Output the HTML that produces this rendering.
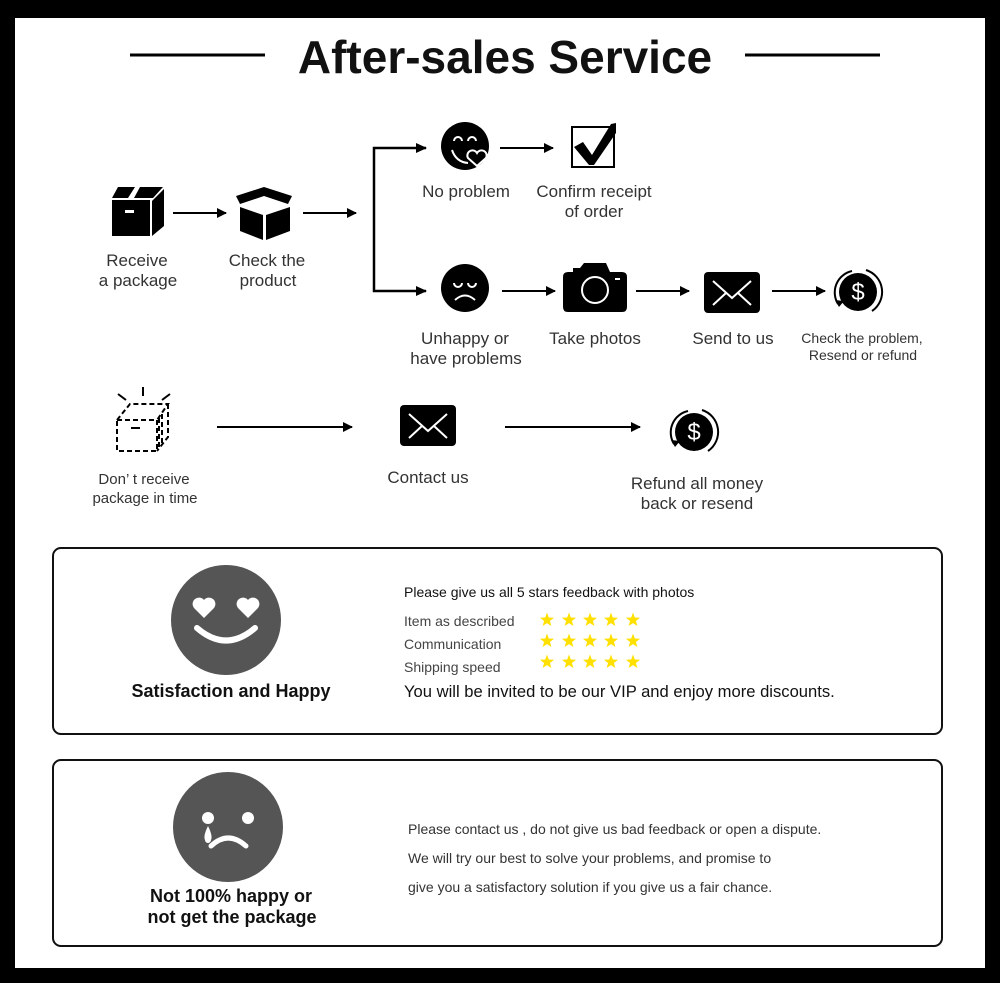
<!DOCTYPE html>
<html><head><meta charset="utf-8"><style>
html,body{margin:0;padding:0;background:#000;}
svg{display:block;}
text{font-family:"Liberation Sans",sans-serif;fill:#333;}
</style></head><body>
<svg width="1000" height="983" viewBox="0 0 1000 983" xmlns="http://www.w3.org/2000/svg">
<defs>
<marker id="ah" markerWidth="10" markerHeight="10" refX="9" refY="5" orient="auto" markerUnits="userSpaceOnUse">
<path d="M0,0 L10,5 L0,10 Z" fill="#000"/></marker>
<path id="st" d="M0,-7.5 L1.8,-2.5 7.1,-2.3 2.9,1 4.4,6 0,3.1 -4.4,6 -2.9,1 -7.1,-2.3 -1.8,-2.5Z" fill="#ffe000"/>
<g id="env"><rect x="0" y="0" width="56" height="41" rx="4" fill="#000"/><path d="M9,9 L28,26 L47,9 M9,33 L22,21 M47,33 L34,21" stroke="#fff" stroke-width="2" fill="none"/></g>
<g id="dol"><circle r="19" fill="#000"/><path d="M-6,-21 A22,22 0 0 0 -20,12 M8,-22 A23,23 0 0 1 14,19" stroke="#000" stroke-width="2" fill="none"/><path d="M-23,8 L-19,15 L-14,9Z" fill="#000"/><text x="0" y="8" text-anchor="middle" font-size="24" style="fill:#fff">$</text></g>
</defs>
<rect x="15" y="18" width="970" height="950" fill="#fff"/>
<line x1="130" y1="55" x2="265" y2="55" stroke="#000" stroke-width="3"/>
<line x1="745" y1="55" x2="880" y2="55" stroke="#000" stroke-width="3"/>
<text x="505" y="73" text-anchor="middle" font-size="46" font-weight="bold" style="fill:#111">After-sales Service</text>

<path d="M112,200 L150,200 L150,236 L112,236Z" fill="#000"/>
<path d="M118,187 L135,187 L128,198 L112,198Z M140,187 L163,187 L153,198 L134,198Z M152,201 L164,189 L164,226 L152,236Z" fill="#000"/>
<rect x="125" y="210" width="9" height="3" fill="#fff"/>
<path d="M264,187 L292,196 L288,204 L264,196 L240,204 L236,196Z" fill="#000"/>
<path d="M240,207 L263,215 L263,240 L240,231Z M266,215 L290,207 L290,231 L266,240Z" fill="#000"/>
<line x1="173" y1="213" x2="226" y2="213" stroke="#000" stroke-width="2" marker-end="url(#ah)"/>
<line x1="303" y1="213" x2="356" y2="213" stroke="#000" stroke-width="2" marker-end="url(#ah)"/>
<path d="M426,148 L374,148 L374,291 L426,291" stroke="#000" stroke-width="2.5" fill="none"/>
<path d="M416,143 L427,148 L416,153Z M416,286 L427,291 L416,296Z" fill="#000"/>
<circle cx="465" cy="146" r="24" fill="#000"/>
<path d="M454,141 a4,4 0 0 1 8,0 M468,141 a4,4 0 0 1 8,0 M452,150 q4,12 16,13" stroke="#fff" stroke-width="2" fill="none"/>
<path d="M477,166 l-9,-8 a4,4 0 0 1 9,-5 a4,4 0 0 1 9,5Z" fill="#000" stroke="#fff" stroke-width="2"/>
<line x1="500" y1="148" x2="553" y2="148" stroke="#000" stroke-width="2" marker-end="url(#ah)"/>
<rect x="572" y="127" width="42" height="40" fill="none" stroke="#000" stroke-width="2"/>
<path d="M574,147 L583,142 L592,155 L611,124 L616,123 L616,133 L594,165 L589,165Z" fill="#000"/>
<text x="466" y="197" text-anchor="middle" font-size="17">No problem</text>
<text x="594" y="197" text-anchor="middle" font-size="17">Confirm receipt</text>
<text x="594" y="217" text-anchor="middle" font-size="17">of order</text>
<text x="137" y="266" text-anchor="middle" font-size="17">Receive</text>
<text x="138" y="286" text-anchor="middle" font-size="17">a package</text>
<text x="267" y="266" text-anchor="middle" font-size="17">Check the</text>
<text x="268" y="286" text-anchor="middle" font-size="17">product</text>

<circle cx="465" cy="288" r="24" fill="#000"/>
<path d="M454,283 a4,4 0 0 0 8,0 M468,283 a4,4 0 0 0 8,0 M455,300 q10,-9 20,0" stroke="#fff" stroke-width="2" fill="none"/>
<line x1="502" y1="291" x2="555" y2="291" stroke="#000" stroke-width="2" marker-end="url(#ah)"/>
<path d="M563,277 q0,-5 5,-5 L573,272 L573,268 L580,268 L584,263 L606,263 L610,272 L622,272 q5,0 5,5 L627,307 q0,5 -5,5 L568,312 q-5,0 -5,-5Z" fill="#000"/>
<circle cx="595" cy="290" r="13" fill="none" stroke="#fff" stroke-width="2"/>
<rect x="615" y="278" width="5" height="2" fill="#fff"/>
<line x1="636" y1="291" x2="689" y2="291" stroke="#000" stroke-width="2" marker-end="url(#ah)"/>
<use href="#env" x="704" y="272"/>
<line x1="772" y1="291" x2="825" y2="291" stroke="#000" stroke-width="2" marker-end="url(#ah)"/>
<use href="#dol" x="858" y="292"/>
<text x="465" y="344" text-anchor="middle" font-size="17">Unhappy or</text>
<text x="466" y="364" text-anchor="middle" font-size="17">have problems</text>
<text x="595" y="344" text-anchor="middle" font-size="17">Take photos</text>
<text x="733" y="344" text-anchor="middle" font-size="17">Send to us</text>
<text x="862" y="343" text-anchor="middle" font-size="14">Check the problem,</text>
<text x="863" y="360" text-anchor="middle" font-size="14">Resend or refund</text>

<g stroke="#000" stroke-width="2" fill="none" stroke-dasharray="5,3">
<rect x="117" y="420" width="40" height="31"/>
<path d="M117,420 L130,404 L168,404 L157,420 M168,404 L168,437 L157,451 M159,418 L159,448 M162,414 L162,444"/>
</g>
<path d="M143,387 L143,396 M118,394 L126,400 M170,394 L162,400" stroke="#000" stroke-width="2"/>
<rect x="131" y="427" width="9" height="2" fill="#000"/>
<line x1="217" y1="427" x2="352" y2="427" stroke="#000" stroke-width="2" marker-end="url(#ah)"/>
<use href="#env" x="400" y="405"/>
<line x1="505" y1="427" x2="640" y2="427" stroke="#000" stroke-width="2" marker-end="url(#ah)"/>
<use href="#dol" x="694" y="432"/>
<text x="144" y="484" text-anchor="middle" font-size="15">Don’ t receive</text>
<text x="145" y="503" text-anchor="middle" font-size="15">package in time</text>
<text x="428" y="483" text-anchor="middle" font-size="17">Contact us</text>
<text x="697" y="489" text-anchor="middle" font-size="17">Refund all money</text>
<text x="697" y="509" text-anchor="middle" font-size="17">back or resend</text>

<rect x="53" y="548" width="889" height="186" rx="8" fill="none" stroke="#111" stroke-width="2"/>
<circle cx="226" cy="620" r="55" fill="#555"/>
<path d="M204,618 l-10,-10 a6,6 0 0 1 10,-8 a6,6 0 0 1 10,8Z M248,618 l-10,-10 a6,6 0 0 1 10,-8 a6,6 0 0 1 10,8Z" fill="#fff"/>
<path d="M197,628 q29,25 58,0" stroke="#fff" stroke-width="6" fill="none" stroke-linecap="round"/>
<text x="231" y="697" text-anchor="middle" font-size="18" font-weight="bold" style="fill:#111">Satisfaction and Happy</text>
<text x="404" y="597" font-size="14" style="fill:#111">Please give us all 5 stars feedback with photos</text>
<text x="404" y="626" font-size="14" style="fill:#444">Item as described</text>
<text x="404" y="649" font-size="14" style="fill:#444">Communication</text>
<text x="404" y="672" font-size="14" style="fill:#444">Shipping speed</text>
<g>
<use href="#st" x="547" y="620"/><use href="#st" x="569" y="620"/><use href="#st" x="590" y="620"/><use href="#st" x="611" y="620"/><use href="#st" x="633" y="620"/>
<use href="#st" x="547" y="641"/><use href="#st" x="569" y="641"/><use href="#st" x="590" y="641"/><use href="#st" x="611" y="641"/><use href="#st" x="633" y="641"/>
<use href="#st" x="547" y="662"/><use href="#st" x="569" y="662"/><use href="#st" x="590" y="662"/><use href="#st" x="611" y="662"/><use href="#st" x="633" y="662"/>
</g>
<text x="404" y="697" font-size="16.6" style="fill:#111">You will be invited to be our VIP and enjoy more discounts.</text>

<rect x="53" y="760" width="889" height="186" rx="8" fill="none" stroke="#111" stroke-width="2"/>
<circle cx="228" cy="827" r="55" fill="#555"/>
<circle cx="208" cy="818" r="6" fill="#fff"/><circle cx="248" cy="818" r="6" fill="#fff"/>
<path d="M208,826 q-5,10 -3,14 a3,3 0 0 0 6,0 q2,-4 -3,-14Z" fill="#fff"/>
<path d="M211,846 q17,-16 35,0" stroke="#fff" stroke-width="5" fill="none" stroke-linecap="round"/>
<text x="231" y="902" text-anchor="middle" font-size="18" font-weight="bold" style="fill:#111">Not 100% happy or</text>
<text x="232" y="923" text-anchor="middle" font-size="18" font-weight="bold" style="fill:#111">not get the package</text>
<text x="408" y="834" font-size="14">Please contact us , do not give us bad feedback or open a dispute.</text>
<text x="408" y="863" font-size="14">We will try our best to solve your problems, and promise to</text>
<text x="408" y="892" font-size="14">give you a satisfactory solution if you give us a fair chance.</text>
</svg>
</body></html>
